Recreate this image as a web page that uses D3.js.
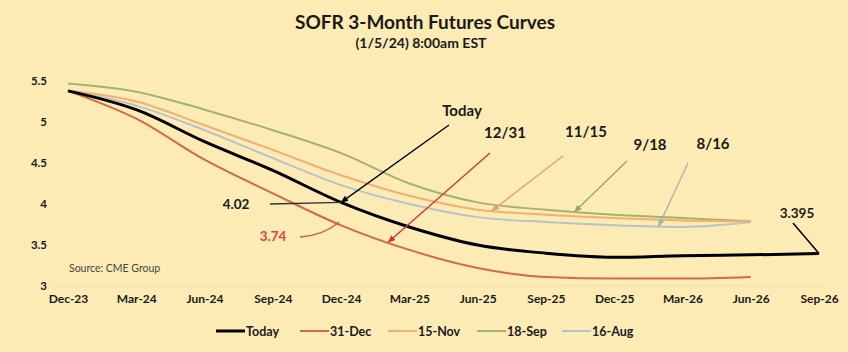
<!DOCTYPE html>
<html lang="en">
	<head>
		<meta charset="utf-8">
		<title>SOFR 3-Month Futures Curves</title>
		<script src="https://d3js.org/d3.v7.min.js"></script>
		<style type="text/css">
		body { margin: 0; background: #fdebb5; }
		text {
			font-family: Lato, "Open Sans", sans-serif;
			font-weight: bold;
		}
		</style>
	</head>
	<body>
		<div id="chart"></div>
		<script type="text/javascript">
		// quarters on the x axis
		var quarters = ["Dec-23", "Mar-24", "Jun-24", "Sep-24", "Dec-24", "Mar-25",
			"Jun-25", "Sep-25", "Dec-25", "Mar-26", "Jun-26", "Sep-26"];

		var yTicks = [3, 3.5, 4, 4.5, 5, 5.5];

		// curves
		var today  = [5.38, 5.15, 4.76, 4.41, 4.02, 3.72, 3.50, 3.40, 3.35, 3.37, 3.38, 3.395];
		var dec31  = [5.38, 5.04, 4.54, 4.13, 3.74, 3.44, 3.22, 3.11, 3.09, 3.09, 3.11];
		var nov15  = [5.38, 5.25, 4.96, 4.66, 4.35, 4.10, 3.93, 3.87, 3.83, 3.80, 3.79];
		var sep18  = [5.47, 5.37, 5.15, 4.90, 4.62, 4.25, 4.02, 3.93, 3.87, 3.83, 3.79];
		var aug16  = [5.38, 5.20, 4.90, 4.56, 4.23, 4.00, 3.84, 3.78, 3.74, 3.72, 3.78];

		var seriesNames = ["Today", "31-Dec", "15-Nov", "18-Sep", "16-Aug"];

		var w = 848;
		var h = 352;

		var series = [
			{ name: "16-Aug", values: aug16, color: "#b9c2c6", width: 2 },
			{ name: "18-Sep", values: sep18, color: "#a3b36a", width: 2 },
			{ name: "15-Nov", values: nov15, color: "#f0b071", width: 2 },
			{ name: "31-Dec", values: dec31, color: "#cf6a49", width: 2 },
			{ name: "Today", values: today, color: "#000000", width: 3 }
		];
		var byName = {};
		series.forEach(function (s) { byName[s.name] = s; });

		//Scales
		var xScale = d3.scalePoint()
			.domain(quarters)
			.range([68, 819]);

		var yScale = d3.scaleLinear()
			.domain([3, 5.5])
			.range([286, 81]);

		var step = xScale.step();

		// position on a curve at a fractional quarter index
		function pointAt(name, t) {
			var v = byName[name].values;
			var i = Math.floor(t), f = t - i;
			var val = f === 0 ? v[i] : v[i] + (v[i + 1] - v[i]) * f;
			return [xScale(quarters[0]) + t * step, yScale(val)];
		}

		var svg = d3.select("#chart")
			.append("svg")
			.attr("width", w)
			.attr("height", h);

		svg.append("rect")
			.attr("width", w)
			.attr("height", h)
			.attr("fill", "#fdebb5");

		// arrow heads
		var defs = svg.append("defs");
		["#000000", "#d0342c", "#e4a06a", "#93a860", "#a9b1b6"].forEach(function (c, i) {
			defs.append("marker")
				.attr("id", "arr" + i)
				.attr("viewBox", "0 0 10 10")
				.attr("refX", 9)
				.attr("refY", 5)
				.attr("markerWidth", 6)
				.attr("markerHeight", 6)
				.attr("orient", "auto")
				.append("path")
				.attr("d", "M0,1L10,5L0,9Z")
				.attr("fill", c);
		});

		//Title
		svg.append("text")
			.attr("x", 425)
			.attr("y", 29)
			.attr("text-anchor", "middle")
			.style("font-size", "19px")
			.style("fill", "#1a1a1a")
			.text("SOFR 3-Month Futures Curves");

		svg.append("text")
			.attr("x", 421)
			.attr("y", 48)
			.attr("text-anchor", "middle")
			.style("font-size", "14px")
			.style("fill", "#1a1a1a")
			.text("(1/5/24) 8:00am EST");

		// baseline
		svg.append("line")
			.attr("x1", 52)
			.attr("x2", 822)
			.attr("y1", yScale(3))
			.attr("y2", yScale(3))
			.attr("stroke", "#eadcb8")
			.attr("stroke-width", 1);

		//Y axis
		var yAxis = d3.axisLeft(yScale)
			.tickValues(yTicks)
			.tickSize(0)
			.tickPadding(0)
			.tickFormat(function (d) { return String(d); });

		var gy = svg.append("g")
			.attr("transform", "translate(47,0)")
			.call(yAxis);
		gy.select(".domain").remove();
		gy.selectAll("text")
			.style("font-size", "11.5px")
			.style("fill", "#1a1a1a");

		//X axis
		var xAxis = d3.axisBottom(xScale)
			.tickSize(0)
			.tickPadding(0);

		var gx = svg.append("g")
			.attr("transform", "translate(0,294)")
			.call(xAxis);
		gx.select(".domain").remove();
		gx.selectAll("text")
			.style("font-size", "12px")
			.style("fill", "#1a1a1a");

		// source
		svg.append("text")
			.attr("x", 69)
			.attr("y", 272)
			.style("font-size", "10.5px")
			.style("font-weight", "normal")
			.style("fill", "#444")
			.text("Source: CME Group");

		//Lines
		var line = d3.line()
			.x(function (d, i) { return xScale(quarters[i]); })
			.y(function (d) { return yScale(d); })
			.curve(d3.curveMonotoneX);

		svg.selectAll("path.curve")
			.data(series)
			.enter()
			.append("path")
			.attr("class", "curve")
			.attr("d", function (d) { return line(d.values); })
			.attr("fill", "none")
			.attr("stroke", function (d) { return d.color; })
			.attr("stroke-width", function (d) { return d.width; });

		//Annotations
		var notes = [
			{ label: "Today", tx: 462, ty: 116, sx: 449, sy: 125, curve: "Today", t: 4, lc: "#000000", m: 0 },
			{ label: "12/31", tx: 505, ty: 138, sx: 490, sy: 153, curve: "31-Dec", t: 4.69, lc: "#d0342c", m: 1 },
			{ label: "11/15", tx: 586, ty: 137, sx: 563, sy: 156, curve: "15-Nov", t: 6.21, lc: "#e4a06a", m: 2 },
			{ label: "9/18", tx: 650, ty: 150, sx: 627, sy: 161, curve: "18-Sep", t: 7.42, lc: "#93a860", m: 3 },
			{ label: "8/16", tx: 713, ty: 149, sx: 688, sy: 163, curve: "16-Aug", t: 8.65, lc: "#a9b1b6", m: 4 }
		];

		notes.forEach(function (n) {
			var p = pointAt(n.curve, n.t);
			svg.append("line")
				.attr("x1", n.sx)
				.attr("y1", n.sy)
				.attr("x2", p[0])
				.attr("y2", p[1])
				.attr("stroke", n.lc)
				.attr("stroke-width", 1.3)
				.attr("marker-end", "url(#arr" + n.m + ")");
			svg.append("text")
				.attr("x", n.tx)
				.attr("y", n.ty)
				.attr("text-anchor", "middle")
				.style("font-size", "15px")
				.style("fill", "#1a1a1a")
				.text(n.label);
		});

		// value call-outs
		var pToday = pointAt("Today", 4);
		svg.append("line")
			.attr("x1", 270).attr("y1", 204)
			.attr("x2", pToday[0]).attr("y2", pToday[1])
			.attr("stroke", "#333")
			.attr("stroke-width", 1.3);
		svg.append("text")
			.attr("x", 236).attr("y", 209)
			.attr("text-anchor", "middle")
			.style("font-size", "13.5px")
			.style("fill", "#1a1a1a")
			.text("4.02");

		var pDec = pointAt("31-Dec", 4);
		svg.append("path")
			.attr("d", "M300,237Q322,236 " + (pDec[0] - 2) + "," + (pDec[1] - 3))
			.attr("fill", "none")
			.attr("stroke", "#cf5a3c")
			.attr("stroke-width", 1.3);
		svg.append("text")
			.attr("x", 273).attr("y", 241)
			.attr("text-anchor", "middle")
			.style("font-size", "13.5px")
			.style("fill", "#d9493a")
			.text("3.74");

		var pEnd = pointAt("Today", 11);
		svg.append("line")
			.attr("x1", 793).attr("y1", 223)
			.attr("x2", pEnd[0]).attr("y2", pEnd[1])
			.attr("stroke", "#000")
			.attr("stroke-width", 1.5);
		svg.append("text")
			.attr("x", 797).attr("y", 218)
			.attr("text-anchor", "middle")
			.style("font-size", "13.5px")
			.style("fill", "#1a1a1a")
			.text("3.395");

		//Legend
		var legendX = [216, 300, 388, 477, 562];
		var legend = svg.selectAll("g.legend")
			.data(seriesNames)
			.enter()
			.append("g")
			.attr("class", "legend")
			.attr("transform", function (d, i) { return "translate(" + legendX[i] + ",331)"; });

		legend.append("line")
			.attr("x1", 0)
			.attr("x2", 29)
			.attr("stroke", function (d) { return byName[d].color; })
			.attr("stroke-width", function (d) { return byName[d].width; });

		legend.append("text")
			.attr("x", 30)
			.attr("y", 4.5)
			.style("font-size", "12.5px")
			.style("fill", "#1a1a1a")
			.text(function (d) { return d; });
		</script>
</body>
</html>
